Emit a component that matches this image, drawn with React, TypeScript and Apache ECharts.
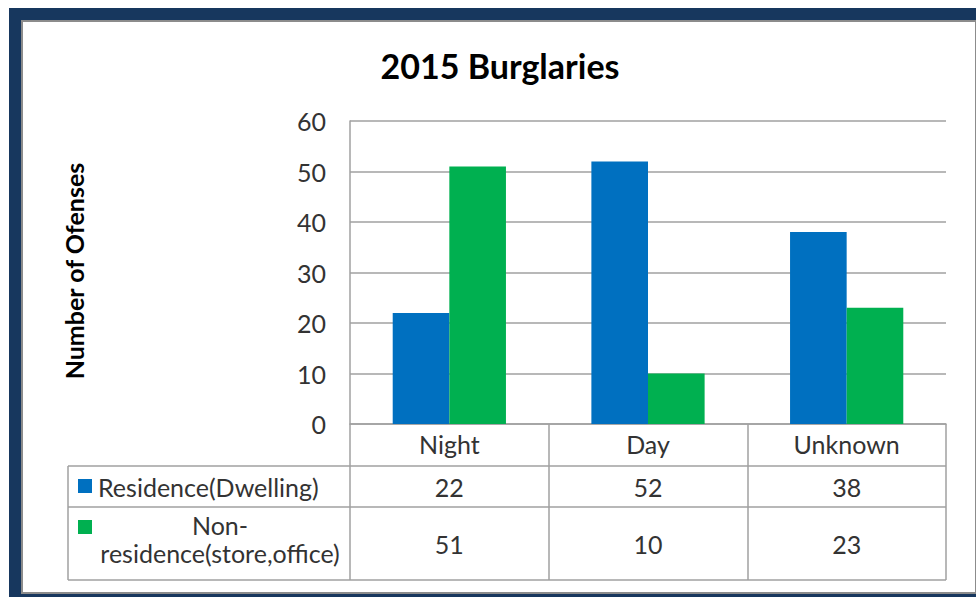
import React, { useEffect, useRef } from "react";
import * as echarts from "echarts";

const titleText = "2015 Burglaries";
const yAxisTitle = "Number of Ofenses";
const categories = ["Night", "Day", "Unknown"];
const seriesNames = ["Residence(Dwelling)", "Non-residence(store,office)"];
const residence = [22, 52, 38];
const nonResidence = [51, 10, 23];
const yMin = 0;
const yMax = 60;
const yInterval = 10;

const BLUE = "#0070C0";
const GREEN = "#00B050";
const GRID_GREY = "#a0a0a0";
const TEXT = "#333333";
const FONT = "Lato, 'Open Sans', sans-serif";
const FS = 25;

export default function App() {
  const ref = useRef<HTMLDivElement>(null);

  useEffect(() => {
    if (!ref.current) return;
    const chart = echarts.init(ref.current, undefined, { renderer: "svg" });
    const lineStyle = { color: GRID_GREY, width: 1.5 };
    const rows = [residence, nonResidence];
    const colors = [BLUE, GREEN];

    const cut = seriesNames[1].indexOf("-") + 1;
    const nonResLines = [seriesNames[1].slice(0, cut), seriesNames[1].slice(cut)];

    const option: any = {
      animation: false,
      backgroundColor: "transparent",
      title: {
        text: titleText,
        left: 500,
        top: 43,
        textAlign: "center",
        textStyle: { fontSize: 34, fontWeight: "bold", fontFamily: FONT, color: "#000" },
      },
      grid: { left: 350, top: 121, width: 596, height: 303, outerBoundsMode: "none", containLabel: false },
      xAxis: [
        {
          type: "category",
          data: categories,
          position: "bottom",
          axisLine: { show: true, lineStyle },
          axisTick: { show: true, length: 156, lineStyle },
          axisLabel: { margin: 20, verticalAlign: "middle", fontSize: FS, color: TEXT, fontFamily: FONT },
          splitLine: { show: false },
        },
        ...rows.map((row, r) => ({
          type: "category",
          data: categories,
          position: "bottom",
          offset: r === 0 ? 42 : 83,
          axisLine: { show: false },
          axisTick: { show: false },
          splitLine: { show: false },
          axisLabel: {
            margin: r === 0 ? 21 : 37,
            verticalAlign: "middle",
            fontSize: FS,
            color: TEXT,
            fontFamily: FONT,
            formatter: (_v: string, i: number) => String(row[i]),
          },
        })),
      ],
      yAxis: {
        type: "value",
        min: yMin,
        max: yMax,
        interval: yInterval,
        axisLine: { show: true, lineStyle },
        axisTick: { show: false },
        splitLine: { show: true, lineStyle },
        axisLabel: { margin: 24, fontSize: FS, color: TEXT, fontFamily: FONT },
      },
      series: [
        {
          name: seriesNames[0],
          type: "bar",
          data: residence,
          barGap: "0%",
          barCategoryGap: "43%",
          itemStyle: { color: BLUE },
        },
        {
          name: seriesNames[1],
          type: "bar",
          data: nonResidence,
          barGap: "0%",
          barCategoryGap: "43%",
          itemStyle: { color: GREEN },
        },
      ],
      graphic: [
        { type: "rect", silent: true, z: -100, shape: { x: 9, y: 8, width: 967, height: 589 }, style: { fill: "#17375E" } },
        { type: "rect", silent: true, z: -99, shape: { x: 21, y: 20, width: 955, height: 574 }, style: { fill: "#8c8c8c" } },
        { type: "rect", silent: true, z: -98, shape: { x: 23, y: 22, width: 952, height: 570 }, style: { fill: "#ffffff" } },
        { type: "line", silent: true, shape: { x1: 68, y1: 466, x2: 946, y2: 466 }, style: { stroke: GRID_GREY, lineWidth: 1.5 } },
        { type: "line", silent: true, shape: { x1: 68, y1: 507, x2: 946, y2: 507 }, style: { stroke: GRID_GREY, lineWidth: 1.5 } },
        { type: "line", silent: true, shape: { x1: 68, y1: 580, x2: 946, y2: 580 }, style: { stroke: GRID_GREY, lineWidth: 1.5 } },
        { type: "line", silent: true, shape: { x1: 68, y1: 466, x2: 68, y2: 580 }, style: { stroke: GRID_GREY, lineWidth: 1.5 } },
        { type: "rect", silent: true, shape: { x: 78, y: 479, width: 14, height: 14 }, style: { fill: colors[0] } },
        { type: "rect", silent: true, shape: { x: 78, y: 520, width: 14, height: 14 }, style: { fill: colors[1] } },
        {
          type: "text",
          silent: true,
          x: 98,
          y: 487,
          style: { text: seriesNames[0], fontSize: FS, fontFamily: FONT, fill: TEXT, align: "left", verticalAlign: "middle" },
        },
        {
          type: "text",
          silent: true,
          x: 220,
          y: 525,
          style: { text: nonResLines[0], fontSize: FS, fontFamily: FONT, fill: TEXT, align: "center", verticalAlign: "middle" },
        },
        {
          type: "text",
          silent: true,
          x: 220,
          y: 553,
          style: { text: nonResLines[1], fontSize: FS, fontFamily: FONT, fill: TEXT, align: "center", verticalAlign: "middle" },
        },
        {
          type: "text",
          silent: true,
          x: 74,
          y: 271,
          rotation: Math.PI / 2,
          style: { text: yAxisTitle, fontSize: 25, fontWeight: "bold", fontFamily: FONT, fill: "#000", align: "center", verticalAlign: "middle" },
        },
      ],
    };
    option.title.left = 495;
    chart.setOption(option);
    return () => chart.dispose();
  }, []);

  return (
    <div
      ref={ref}
      style={{ position: "absolute", left: 0, top: 0, width: 976, height: 597, background: "#ffffff" }}
    />
  );
}
